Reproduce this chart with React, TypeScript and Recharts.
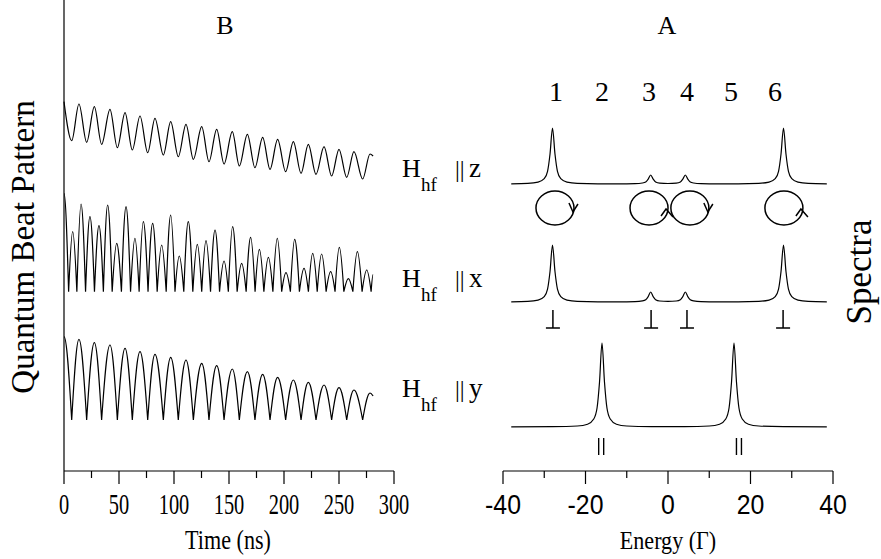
import React from 'react';
import { LineChart, Line, XAxis, YAxis, ReferenceDot } from 'recharts';

const SERIF = '"Liberation Serif", "Times New Roman", serif';
const SANS = '"Liberation Sans", Arial, sans-serif';

// ---- panel B: quantum beats (time in ns, amplitude in arbitrary units)
// extrema: peak, valley, peak, ... last value is where the trace stops
const slowBeatTime = [0, 7.0, 13.6, 20.6, 27.6, 34.2, 41.8, 48.5, 55.5, 62.1, 69.1, 76.1, 82.7, 90.3, 97, 103.9, 110.9, 117.6, 125.2, 131.8, 138.8, 145.5, 153, 159.4, 166.7, 173.6, 180.6, 187.3, 194.2, 201.5, 208.5, 215.5, 222.1, 229.1, 236.4, 243.3, 250, 257, 263.6, 271.5, 278.2, 281];
const zBeatValue = [88.3, 49.3, 86, 47.7, 83.3, 45.7, 80.7, 42.3, 77.3, 40, 74, 37.3, 71.7, 35, 68.3, 33.3, 65.7, 30.7, 63.3, 28.3, 60.7, 26, 58.3, 24, 55.7, 22.3, 52.7, 20.7, 50.7, 18.3, 48.3, 16.7, 45.7, 15.7, 43.3, 14, 40.7, 12.7, 38.3, 11, 36, 34];
const yBeatValue = [83.3, 0, 80.7, 0, 77.3, 0, 75, 0, 71.7, 0, 68.3, 0, 65.7, 0, 62.7, 0, 60, 0, 56.7, 0, 54.3, 0, 51, 0, 48.3, 0, 45.7, 0, 42.7, 0, 40, 0, 37.7, 0, 35, 0, 32.3, 0, 30, 0, 27, 24];
const xBeatTime = [0, 4.2, 7.9, 11.7, 15.5, 19.6, 23.6, 27.7, 31.8, 35.8, 39.7, 43.8, 47.9, 52.2, 56.4, 60.5, 64.5, 68.3, 72.1, 76.4, 80.6, 84.7, 88.8, 92.9, 97, 100.9, 104.8, 108.9, 113, 117.1, 121.2, 125.2, 129.1, 133.2, 137.3, 141.4, 145.5, 149.4, 153.3, 157.4, 161.5, 165.6, 169.7, 173.7, 177.6, 181.7, 185.8, 189.9, 193.9, 197.9, 201.8, 205.8, 209.7, 214, 218.2, 222.2, 226.1, 230.2, 234.2, 238.3, 242.4, 246.4, 250.3, 254.4, 258.5, 262.6, 266.7, 271, 275.2, 279.2, 281];
const xBeatValue = [98.4, 0, 60, 0, 87.7, 0, 75, 0, 66, 0, 86.7, 0, 48.4, 0, 85, 0, 53.4, 0, 70, 0, 68.4, 0, 46.7, 0, 76.7, 0, 35.7, 0, 70, 0, 47.4, 0, 51, 0, 61.7, 0, 30.7, 0, 65, 0, 28.4, 0, 54.4, 0, 42.4, 0, 34.4, 0, 53.4, 0, 19, 0, 52.4, 0, 23.4, 0, 38.4, 0, 37.7, 0, 20, 0, 44.4, 0, 13, 0, 40, 0, 21.7, 0, 17];
const timeTicks = [0, 25, 50, 75, 100, 125, 150, 175, 200, 225, 250, 275, 300];

// ---- panel A: spectra (energy in units of Gamma)
const zSpecEnergy = [-38, -34, -31.5, -30, -29.2, -28.6, -28, -27.4, -26.8, -26, -24.5, -22, -12, -8, -6.2, -5.4, -4.8, -4.2, -3.6, -3, -2, 0, 2, 3, 3.6, 4.2, 4.8, 5.4, 6.2, 8, 12, 22, 24.5, 26, 26.8, 27.4, 28, 28.6, 29.2, 30, 31.5, 34, 38.5];
const zSpecValue = [0.2, 0.6, 1.9, 5.3, 12.7, 30, 56, 30, 12.7, 5.3, 1.9, 0.7, 0.2, 0.4, 1, 2, 4.9, 9, 4.9, 2.1, 0.9, 0.5, 0.9, 2.1, 4.9, 9, 4.9, 2, 1, 0.4, 0.2, 0.7, 1.9, 5.3, 12.7, 30, 56, 30, 12.7, 5.3, 1.9, 0.6, 0.2];
const xSpecValue = [0.2, 0.6, 1.9, 5.4, 12.9, 30.5, 57, 30.5, 12.9, 5.4, 1.9, 0.7, 0.2, 0.4, 1.1, 2.3, 5.4, 10, 5.4, 2.3, 1, 0.6, 1, 2.3, 5.4, 10, 5.4, 2.3, 1.1, 0.4, 0.2, 0.7, 1.9, 5.4, 12.9, 30.5, 57, 30.5, 12.9, 5.4, 1.9, 0.6, 0.2];
const ySpecEnergy = [-38, -28, -22, -19.5, -18, -17.2, -16.6, -16, -15.4, -14.8, -14, -12.5, -10, -4, 0, 4, 10, 12.5, 14, 14.8, 15.4, 16, 16.6, 17.2, 18, 19.5, 22, 28, 38.5];
const ySpecValue = [0.1, 0.3, 1, 2.8, 8, 19, 45, 84, 45, 19, 8, 2.8, 1, 0.35, 0.3, 0.35, 1, 2.8, 8, 19, 45, 84, 45, 19, 8, 2.8, 1, 0.3, 0.1];
const energyTicks = [-40, -30, -20, -10, 0, 10, 20, 30, 40];

const lineNumbers = ['1', '2', '3', '4', '5', '6'];
const circleEnergy = [-27.4, -4.6, 5.3, 28.1];
const circleSense = ['cw', 'ccw', 'cw', 'ccw'];
const perpEnergy = [-27.9, -4.1, 4.6, 27.9];
const parEnergy = [-16.2, 17.2];

// layout (pixel units above the time / energy axis)
const PLOT_H = 471;
const BEAT_BASE = { z: 281, x: 179.3, y: 51 };
const SPEC_BASE = { z: 287, x: 169, y: 44 };
const CIRCLE_LEVEL = 263;
const PERP_LEVEL = 143;
const PAR_LEVEL = 16;

const zBeat = slowBeatTime.map((t, i) => ({ t, v: zBeatValue[i] + BEAT_BASE.z }));
const yBeat = slowBeatTime.map((t, i) => ({ t, v: yBeatValue[i] + BEAT_BASE.y }));
const xBeat = xBeatTime.map((t, i) => ({ t, v: xBeatValue[i] + BEAT_BASE.x }));
const zSpec = zSpecEnergy.map((e, i) => ({ e, v: zSpecValue[i] + SPEC_BASE.z }));
const xSpec = zSpecEnergy.map((e, i) => ({ e, v: xSpecValue[i] + SPEC_BASE.x }));
const ySpec = ySpecEnergy.map((e, i) => ({ e, v: ySpecValue[i] + SPEC_BASE.y }));

// |sin|-like arches: steep at the low end of a segment, flat at the high end
const archCurve = (context: any) => {
  let pts: number[][] = [];
  return {
    areaStart() {},
    areaEnd() {},
    lineStart() { pts = []; },
    point(x: number, y: number) { pts.push([+x, +y]); },
    lineEnd() {
      if (!pts.length) return;
      context.moveTo(pts[0][0], pts[0][1]);
      for (let i = 1; i < pts.length; i++) {
        const [x0, y0] = pts[i - 1];
        const [x1, y1] = pts[i];
        const dx = x1 - x0;
        if (y0 > y1) {
          context.bezierCurveTo(x0 + 0.3516 * dx, y0 + 0.5523 * (y1 - y0), x0 + 0.6484 * dx, y1, x1, y1);
        } else {
          context.bezierCurveTo(x0 + 0.3516 * dx, y0, x0 + 0.6484 * dx, y1 - 0.5523 * (y1 - y0), x1, y1);
        }
      }
    },
  };
};

const TimeTick = ({ x, y, payload }: any) => {
  const major = payload.value % 50 === 0;
  return (
    <g>
      <line x1={x} y1={y} x2={x} y2={y + (major ? 13 : 7)} stroke="#000" strokeWidth={1.2} />
      {major && (
        <text transform={`translate(${x},${y + 43}) scale(0.68,1)`} textAnchor="middle" fontSize={30} fontFamily={SERIF} fill="#000">
          {payload.value}
        </text>
      )}
    </g>
  );
};

const EnergyTick = ({ x, y, payload }: any) => {
  const major = payload.value % 20 === 0;
  return (
    <g>
      <line x1={x} y1={y} x2={x} y2={y + (major ? 13 : 7)} stroke="#000" strokeWidth={1.2} />
      {major && (
        <text transform={`translate(${x},${y + 43}) scale(0.92,1)`} textAnchor="middle" fontSize={27} fontFamily={SANS} fill="#000">
          {payload.value}
        </text>
      )}
    </g>
  );
};

const CircleArrow = ({ cx, cy, sense }: any) => (
  <g fill="none" stroke="#000" strokeWidth={1.5}>
    <ellipse cx={cx} cy={cy} rx={19} ry={17} />
    {sense === 'cw' ? (
      <polyline points={`${cx + 14},${cy - 5} ${cx + 18},${cy + 4} ${cx + 23},${cy - 4}`} />
    ) : (
      <polyline points={`${cx + 12},${cy + 8} ${cx + 17},${cy + 1} ${cx + 24},${cy + 9}`} />
    )}
  </g>
);

const Perp = ({ cx, cy }: any) => (
  <g stroke="#000" strokeWidth={1.5}>
    <line x1={cx} y1={cy - 18} x2={cx} y2={cy} />
    <line x1={cx - 7} y1={cy} x2={cx + 7} y2={cy} />
  </g>
);

const Par = ({ cx, cy }: any) => (
  <g stroke="#000" strokeWidth={1.4}>
    <line x1={cx - 2.5} y1={cy - 17} x2={cx - 2.5} y2={cy} />
    <line x1={cx + 2.5} y1={cy - 17} x2={cx + 2.5} y2={cy} />
  </g>
);

const HLabel = ({ y, axis }: { y: number; axis: string }) => (
  <g fontFamily={SERIF} fill="#000">
    <text x={402} y={y} fontSize={26}>H</text>
    <text x={421} y={y + 14} fontSize={19}>hf</text>
    <text x={455} y={y} fontSize={24}>||</text>
    <text x={469} y={y} fontSize={27}>{axis}</text>
  </g>
);

const numberX = [556, 602, 649, 687, 731, 775];

export default function App() {
  const lineProps = { dataKey: 'v', dot: false, stroke: '#000', strokeWidth: 1.2, isAnimationActive: false };
  return (
    <div style={{ position: 'absolute', left: 0, top: 0, width: 881, height: 559, background: '#fff' }}>
      <div style={{ position: 'absolute', left: 0, top: 0 }}>
        <LineChart width={420} height={559} margin={{ top: 0, right: 26, left: 0, bottom: 28 }}>
          <XAxis
            type="number"
            dataKey="t"
            domain={[0, 300]}
            ticks={timeTicks}
            interval={0}
            height={60}
            tickSize={0}
            tickMargin={0}
            tickLine={false}
            axisLine={{ stroke: '#000', strokeWidth: 1.2 }}
            tick={<TimeTick />}
          />
          <YAxis type="number" domain={[0, PLOT_H]} width={64} tick={false} tickLine={false} axisLine={{ stroke: '#000', strokeWidth: 1.2 }} />
          <Line data={zBeat} type="monotone" {...lineProps} />
          <Line data={xBeat} type={archCurve as any} {...lineProps} />
          <Line data={yBeat} type={archCurve as any} {...lineProps} />
        </LineChart>
      </div>
      <div style={{ position: 'absolute', left: 0, top: 0 }}>
        <LineChart width={881} height={559} margin={{ top: 0, right: 48, left: 503, bottom: 28 }}>
          <XAxis
            type="number"
            dataKey="e"
            domain={[-40, 40]}
            ticks={energyTicks}
            interval={0}
            height={60}
            tickSize={0}
            tickMargin={0}
            tickLine={false}
            axisLine={{ stroke: '#000', strokeWidth: 1.2 }}
            tick={<EnergyTick />}
          />
          <YAxis type="number" domain={[0, PLOT_H]} hide />
          <Line data={zSpec} type="monotone" {...lineProps} />
          <Line data={xSpec} type="monotone" {...lineProps} />
          <Line data={ySpec} type="monotone" {...lineProps} />
          {circleEnergy.map((e, i) => (
            <ReferenceDot key={`c${i}`} x={e} y={CIRCLE_LEVEL} shape={(p: any) => <CircleArrow {...p} sense={circleSense[i]} />} />
          ))}
          {perpEnergy.map((e, i) => (
            <ReferenceDot key={`p${i}`} x={e} y={PERP_LEVEL} shape={(p: any) => <Perp {...p} />} />
          ))}
          {parEnergy.map((e, i) => (
            <ReferenceDot key={`q${i}`} x={e} y={PAR_LEVEL} shape={(p: any) => <Par {...p} />} />
          ))}
        </LineChart>
      </div>
      <svg width={881} height={559} style={{ position: 'absolute', left: 0, top: 0, pointerEvents: 'none' }}>
        <g fontFamily={SERIF} fill="#000" textAnchor="middle">
          <text x={225} y={34} fontSize={26}>B</text>
          <text x={667} y={34} fontSize={26}>A</text>
          {lineNumbers.map((n, i) => (
            <text key={n} x={numberX[i]} y={101} fontSize={28}>{n}</text>
          ))}
          <text transform="translate(34,247) rotate(-90)" fontSize={33}>Quantum Beat Pattern</text>
          <text transform="translate(871,272) rotate(-90)" fontSize={35}>Spectra</text>
          <text transform="translate(228,549) scale(0.82,1)" fontSize={27}>Time (ns)</text>
          <text transform="translate(668,549) scale(0.85,1)" fontSize={26}>Energy (Γ)</text>
        </g>
        <HLabel y={177} axis="z" />
        <HLabel y={287} axis="x" />
        <HLabel y={397} axis="y" />
      </svg>
    </div>
  );
}
